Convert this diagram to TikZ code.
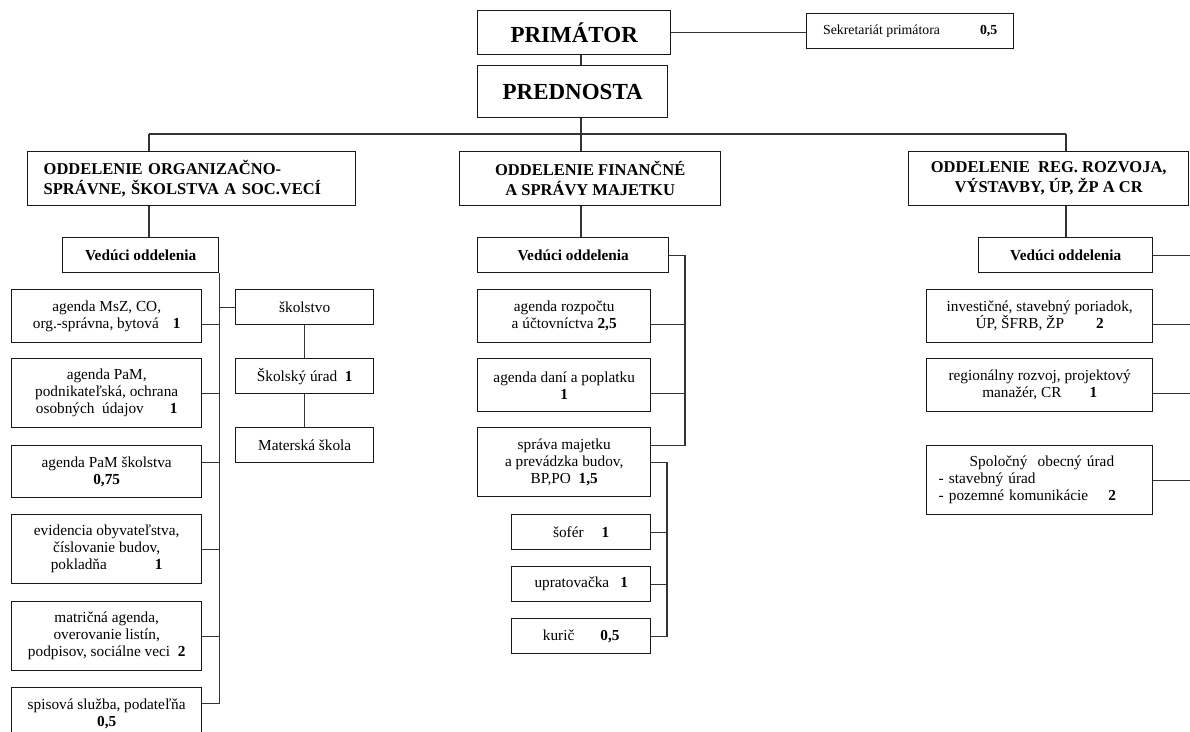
\documentclass[tikz,border=0pt]{standalone}
\usepackage{fontspec}
\setmainfont{Liberation Serif}
\usepackage{tikz}

\begin{document}
\begin{tikzpicture}[x=1pt,y=-1pt,
    box/.style={draw=black!90, line width=1.4pt, inner sep=2pt, anchor=north west, align=center, font=\fontsize{15.3}{17}\selectfont},
    head/.style={box, font=\fontsize{23}{26}\selectfont\bfseries},
    dept/.style={box, font=\fontsize{16.5}{20}\selectfont\bfseries},
    link/.style={draw=black!80, line width=1.3pt}]
        \useasboundingbox (0,0) rectangle (1190,731);

        % Draw the top of the chart
        \node[head, minimum width=193pt, minimum height=44pt] (prim) at (477,10) {PRIMÁTOR};
        \node[box, font=\fontsize{13.8}{16}\selectfont, minimum width=207pt, minimum height=35pt] (sekr) at (806,13) {Sekretariát primátora\hspace{40pt}\textbf{0,5}};
        \node[head, minimum width=190pt, minimum height=52pt] (pred) at (477,65) {PREDNOSTA};

        % Draw the departments
        \node[dept, align=left, text width=296pt, inner xsep=16pt, minimum height=54pt] (deptL) at (27,151) {ODDELENIE ORGANIZAČNO-\\SPRÁVNE, ŠKOLSTVA A SOC.VECÍ};
        \node[dept, minimum width=261pt, minimum height=54pt] (deptM) at (459,151) {ODDELENIE FINANČNÉ\\A SPRÁVY MAJETKU};
        \node[dept, minimum width=280pt, minimum height=54pt] (deptR) at (908,151) {ODDELENIE\ \ REG. ROZVOJA,\\VÝSTAVBY, ÚP, ŽP A CR};

        % Heads of the departments
        \node[box, minimum width=156pt, minimum height=35pt] (vedL) at (62,237) {\textbf{Vedúci oddelenia}};
        \node[box, minimum width=191pt, minimum height=35pt] (vedM) at (477,237) {\textbf{Vedúci oddelenia}};
        \node[box, minimum width=174pt, minimum height=35pt] (vedR) at (978,237) {\textbf{Vedúci oddelenia}};

        % Left department
        \node[box, minimum width=190pt, minimum height=53pt] (msz) at (11,289) {agenda MsZ, CO,\\org.-správna, bytová\hspace{14pt}\textbf{1}};
        \node[box, minimum width=190pt, minimum height=69pt] (pam) at (11,358) {agenda PaM,\\podnikateľská, ochrana\\osobných\ \ údajov\hspace{26pt}\textbf{1}};
        \node[box, minimum width=190pt, minimum height=52pt] (pams) at (11,445) {agenda PaM školstva\\\textbf{0,75}};
        \node[box, minimum width=190pt, minimum height=69pt] (evid) at (11,514) {evidencia obyvateľstva,\\číslovanie budov,\\pokladňa\hspace{48pt}\textbf{1}};
        \node[box, minimum width=190pt, minimum height=69pt] (matr) at (11,601) {matričná agenda,\\overovanie listín,\\podpisov, sociálne veci\ \ \textbf{2}};
        \node[box, minimum width=190pt, minimum height=52pt] (spis) at (11,687) {spisová služba, podateľňa\\\textbf{0,5}};
        \node[box, minimum width=138pt, minimum height=35pt] (skol) at (235,289) {školstvo};
        \node[box, minimum width=138pt, minimum height=35pt] (surad) at (235,358) {Školský úrad\ \ \textbf{1}};
        \node[box, minimum width=138pt, minimum height=35pt] (mat) at (235,427) {Materská škola};

        % Middle department
        \node[box, minimum width=173pt, minimum height=53pt] (rozp) at (477,289) {agenda rozpočtu\\a účtovníctva \textbf{2,5}};
        \node[box, minimum width=173pt, minimum height=53pt] (dane) at (477,358) {agenda daní a poplatku\\\textbf{1}};
        \node[box, minimum width=173pt, minimum height=69pt] (spr) at (477,427) {správa majetku\\a prevádzka budov,\\BP,PO\ \ \textbf{1,5}};
        \node[box, minimum width=139pt, minimum height=35pt] (sof) at (511,514) {šofér\hspace{18pt}\textbf{1}};
        \node[box, minimum width=139pt, minimum height=35pt] (upr) at (511,566) {upratovačka\hspace{11pt}\textbf{1}};
        \node[box, minimum width=139pt, minimum height=35pt] (kur) at (511,618) {kurič\hspace{26pt}\textbf{0,5}};

        % Right department
        \node[box, minimum width=226pt, minimum height=53pt] (inv) at (926,289) {investičné, stavebný poriadok,\\ÚP, ŠFRB, ŽP\hspace{32pt}\textbf{2}};
        \node[box, minimum width=226pt, minimum height=53pt] (reg) at (926,358) {regionálny rozvoj, projektový\\manažér, CR\hspace{28pt}\textbf{1}};
        \node[box, align=left, text width=202pt, inner xsep=12pt, minimum height=69pt] (spol) at (926,445) {\hspace*{31pt}Spoločný\ \ obecný úrad\\- stavebný úrad\\- pozemné komunikácie\hspace{20pt}\textbf{2}};

        % Connect the top boxes
        \coordinate (busL) at (149,134);
        \coordinate (busM) at (581,134);
        \coordinate (busR) at (1066,134);
        \draw[link] (prim.east) -- (prim.east -| sekr.west);
        \draw[link] (prim.south -| busM) -- (pred.north -| busM);
        \draw[link] (pred.south -| busM) -- (deptM.north -| busM);
        \draw[link] (busL) -- (busR);
        \draw[link] (busL) -- (deptL.north -| busL);
        \draw[link] (busR) -- (deptR.north -| busR);
        \draw[link] (deptL.south -| busL) -- (vedL.north -| busL);
        \draw[link] (deptM.south -| busM) -- (vedM.north -| busM);
        \draw[link] (deptR.south -| busR) -- (vedR.north -| busR);

        % Connect the left department
        \draw[link] (vedL.south east) |- ([yshift=10pt]spis.east);
        \draw[link] ([yshift=-8.5pt]msz.east) -- ([yshift=-8.5pt]msz.east -| vedL.east);
        \draw[link] (pam.east) -- (pam.east -| vedL.east);
        \draw[link] ([yshift=9pt]pams.east) -- ([yshift=9pt]pams.east -| vedL.east);
        \draw[link] (evid.east) -- (evid.east -| vedL.east);
        \draw[link] (matr.east) -- (matr.east -| vedL.east);
        \draw[link] (skol.west) -- (skol.west -| vedL.east);
        \draw[link] (skol) -- (surad);
        \draw[link] (surad) -- (mat);

        % Connect the middle department
        \coordinate (finbus) at (685,0);
        \coordinate (servbus) at (667,0);
        \draw[link] (vedM.east) -| ([yshift=16.5pt]spr.east -| finbus) -- ([yshift=16.5pt]spr.east);
        \draw[link] ([yshift=-8.5pt]rozp.east) -- ([yshift=-8.5pt]rozp.east -| finbus);
        \draw[link] ([yshift=-8.5pt]dane.east) -- ([yshift=-8.5pt]dane.east -| finbus);
        \draw[link] (spr.east) -| (kur.east -| servbus) -- (kur.east);
        \draw[link] (sof.east) -- (sof.east -| servbus);
        \draw[link] (upr.east) -- (upr.east -| servbus);

        % Connect the right department (bus runs off the page)
        \coordinate (edge) at (1190,0);
        \draw[link] (vedR.east) -- (vedR.east -| edge);
        \draw[link] ([yshift=-8.5pt]inv.east) -- ([yshift=-8.5pt]inv.east -| edge);
        \draw[link] ([yshift=-8.5pt]reg.east) -- ([yshift=-8.5pt]reg.east -| edge);
        \draw[link] (spol.east) -- (spol.east -| edge);

    \end{tikzpicture}
\end{document}
